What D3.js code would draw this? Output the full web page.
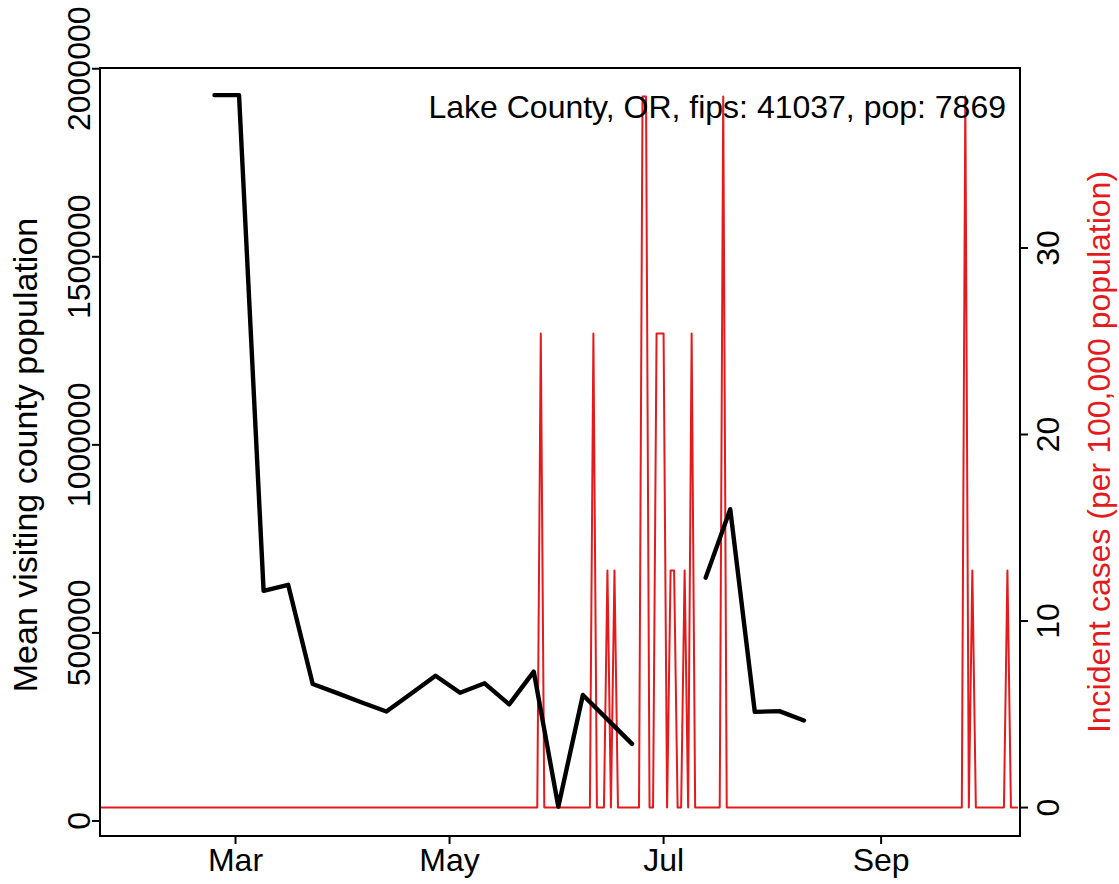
<!DOCTYPE html>
<html><head><meta charset="utf-8">
<script src="https://cdn.jsdelivr.net/npm/d3@7"></script>
<style>
body{margin:0;background:#fff}
svg{display:block}
text{font-family:"Liberation Sans",Arial,Helvetica,sans-serif}
</style>
</head><body>
<svg id="c" width="1119" height="884"></svg>
<script>
// ---------- data ----------
const firstDay = "2020-01-22";           // date of incidence[0], one value per day
const incidence = [                       // incident cases per 100,000 population
0,0,0,0,0,0,0,0,0,0,
0,0,0,0,0,0,0,0,0,0,
0,0,0,0,0,0,0,0,0,0,
0,0,0,0,0,0,0,0,0,0,
0,0,0,0,0,0,0,0,0,0,
0,0,0,0,0,0,0,0,0,0,
0,0,0,0,0,0,0,0,0,0,
0,0,0,0,0,0,0,0,0,0,
0,0,0,0,0,0,0,0,0,0,
0,0,0,0,0,0,0,0,0,0,
0,0,0,0,0,0,0,0,0,0,
0,0,0,0,0,0,0,0,0,0,
0,0,0,0,0,0,25.42,0,0,0,
0,0,0,0,0,0,0,0,0,0,
0,25.42,0,0,0,12.71,0,12.71,0,0,
0,0,0,0,0,38.12,38.12,0,0,25.42,
25.42,25.42,0,12.71,12.71,0,0,12.71,0,25.42,
0,0,0,0,0,0,0,0,38.12,0,
0,0,0,0,0,0,0,0,0,0,
0,0,0,0,0,0,0,0,0,0,
0,0,0,0,0,0,0,0,0,0,
0,0,0,0,0,0,0,0,0,0,
0,0,0,0,0,0,0,0,0,0,
0,0,0,0,0,0,0,0,0,0,
0,0,0,0,0,0,0,38.12,0,12.71,
0,0,0,0,0,0,0,0,0,12.71,
0,0,0
];
const weekDates = ["2020-02-24","2020-03-02","2020-03-09","2020-03-16","2020-03-23","2020-03-30",
  "2020-04-06","2020-04-13","2020-04-20","2020-04-27","2020-05-04","2020-05-11","2020-05-18",
  "2020-05-25","2020-06-01","2020-06-08","2020-06-15","2020-06-22","2020-06-29","2020-07-06",
  "2020-07-13","2020-07-20","2020-07-27","2020-08-03","2020-08-10"];
const visitors = [1930000,1930000,612000,628000,364000,340000,
  315000,291000,338000,386000,341000,366000,310000,
  397000,38000,335000,270000,205000,null,null,
  647000,829000,290000,292000,267000];
const xTickDates = ["2020-03-01","2020-05-01","2020-07-01","2020-09-01"];
const xTickLabels = ["Mar","May","Jul","Sep"];
const leftTicks = [0,500000,1000000,1500000,2000000];
const rightTicks = [0,10,20,30];
const leftTitle = "Mean visiting county population";
const rightTitle = "Incident cases (per 100,000 population)";
const caption = "Lake County, OR, fips: 41037, pop: 7869";

// ---------- layout ----------
const L = 100, R = 1020, T = 68, B = 836;
const RED = "#E41A1C";
const FS = 32;
const svg = d3.select("#c");
const parse = d3.utcParse("%Y-%m-%d");
const day0 = parse(firstDay);

const x = d3.scaleUtc()
  .domain([d3.utcHour.offset(day0, 9), d3.utcHour.offset(day0, 6302)])
  .range([L, R]);
const yL = d3.scaleLinear().domain([-40000, 2002000]).range([B, T]);
const yR = d3.scaleLinear().domain([-1.525, 39.65]).range([B, T]);

svg.append("defs").append("clipPath").attr("id","clip")
  .append("rect").attr("x",L).attr("y",T).attr("width",R-L).attr("height",B-T);

const redData = incidence.map((v,i)=>({d:d3.utcDay.offset(day0,i), v}));
const blackData = weekDates.map((s,i)=>({d:parse(s), v:visitors[i]}));

const g = svg.append("g").attr("clip-path","url(#clip)");
g.append("path").datum(redData)
  .attr("d", d3.line().x(p=>x(p.d)).y(p=>yR(p.v)))
  .attr("fill","none").attr("stroke",RED).attr("stroke-width",2)
  .attr("stroke-linejoin","round");
g.append("path").datum(blackData)
  .attr("d", d3.line().defined(p=>p.v!=null).x(p=>x(p.d)).y(p=>yL(p.v)))
  .attr("fill","none").attr("stroke","#000").attr("stroke-width",4.4)
  .attr("stroke-linejoin","round").attr("stroke-linecap","round");

// box
svg.append("rect").attr("x",L).attr("y",T).attr("width",R-L).attr("height",B-T)
  .attr("fill","none").attr("stroke","#000").attr("stroke-width",2);

// bottom axis
const bx = svg.append("g");
xTickDates.forEach((s,i)=>{
  const xp = x(parse(s));
  bx.append("line").attr("x1",xp).attr("x2",xp).attr("y1",B).attr("y2",B+8)
    .attr("stroke","#000").attr("stroke-width",2);
  bx.append("text").attr("x",xp).attr("y",871).attr("text-anchor","middle")
    .attr("font-size",FS).text(xTickLabels[i]);
});

// left axis
leftTicks.forEach(v=>{
  const yp = yL(v);
  svg.append("line").attr("x1",L).attr("x2",L-8).attr("y1",yp).attr("y2",yp)
    .attr("stroke","#000").attr("stroke-width",2);
  svg.append("text").attr("transform",`translate(90,${yp}) rotate(-90)`)
    .attr("text-anchor","middle").attr("font-size",FS).text(d3.format("d")(v));
});
svg.append("text").attr("transform",`translate(37,455) rotate(-90)`)
  .attr("text-anchor","middle").attr("font-size",34).text(leftTitle);

// right axis
rightTicks.forEach(v=>{
  const yp = yR(v);
  svg.append("line").attr("x1",R).attr("x2",R+8).attr("y1",yp).attr("y2",yp)
    .attr("stroke","#000").attr("stroke-width",2);
  svg.append("text").attr("transform",`translate(1059,${yp}) rotate(-90)`)
    .attr("text-anchor","middle").attr("font-size",FS).text(v);
});
svg.append("text").attr("transform",`translate(1110,${(T+B)/2}) rotate(-90)`)
  .attr("text-anchor","middle").attr("font-size",FS).attr("fill",RED).text(rightTitle);

// caption
svg.append("text").attr("x",1006).attr("y",118).attr("text-anchor","end")
  .attr("font-size",FS).text(caption);
</script>
</body></html>
